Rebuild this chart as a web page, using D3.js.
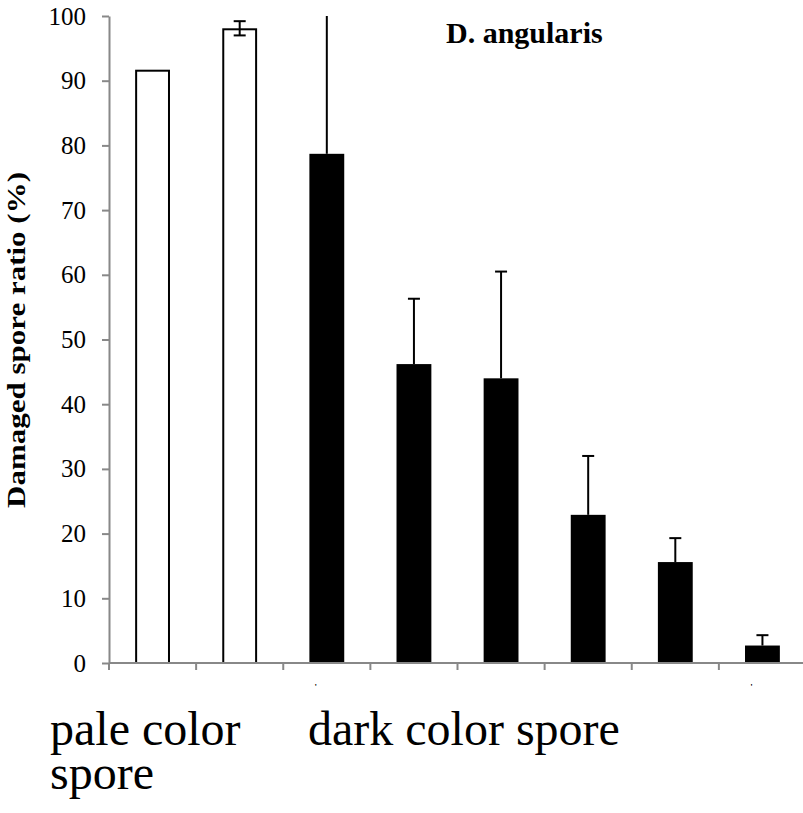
<!DOCTYPE html>
<html>
<head>
<meta charset="utf-8">
<script src="https://cdn.jsdelivr.net/npm/d3@7"></script>
<style>
  html, body { margin: 0; padding: 0; background: #fff; }
  svg { display: block; }
</style>
</head>
<body>
<svg id="chart" width="803" height="813"></svg>
<script>
// ---- data ----
const categories = ["P1", "P2", "D1", "D2", "D3", "D4", "D5", "D6"];
const values = [91.7, 98.1, 78.7, 46.2, 44.0, 22.9, 15.6, 2.7];
const errors = [0, 1.1, 25, 10.1, 16.5, 9.1, 3.7, 1.6];
const colorGroup = ["pale", "pale", "dark", "dark", "dark", "dark", "dark", "dark"];
const yTicks = [0, 10, 20, 30, 40, 50, 60, 70, 80, 90, 100];
const chartTitle = "D. angularis";
const yLabel = "Damaged spore ratio (%)";
const groupLabels = [
  { lines: ["pale color", "spore"], x: 50 },
  { lines: ["dark color spore"], x: 308 }
];

// ---- layout ----
const svg = d3.select("#chart");
const mLeft = 109, mRight = 806, mTop = 16, mBottom = 663;
const serif = "'Liberation Serif', 'Times New Roman', serif";

const x = d3.scaleBand().domain(categories).range([mLeft, mRight])
  .paddingInner(0.6).paddingOuter(0.3);
const y = d3.scaleLinear().domain([0, 100]).range([mBottom, mTop]);

svg.append("defs").append("clipPath").attr("id", "plotclip")
  .append("rect").attr("x", mLeft).attr("y", mTop).attr("width", mRight - mLeft).attr("height", mBottom - mTop);

const plot = svg.append("g").attr("clip-path", "url(#plotclip)");

// bars
plot.selectAll("rect.bar").data(categories).enter().append("rect")
  .attr("class", "bar")
  .attr("x", (d, i) => x(d) + (colorGroup[i] === "pale" ? 1 : 0))
  .attr("width", (d, i) => colorGroup[i] === "pale" ? x.bandwidth() - 2 : x.bandwidth())
  .attr("y", (d, i) => y(values[i]) + (colorGroup[i] === "pale" ? 1 : 0))
  .attr("height", (d, i) => y(0) - y(values[i]) - (colorGroup[i] === "pale" ? 1 : 0))
  .attr("fill", (d, i) => colorGroup[i] === "pale" ? "#fff" : "#000")
  .attr("stroke", "#000")
  .attr("stroke-width", (d, i) => colorGroup[i] === "pale" ? 2 : 0);

// error bars
const errG = plot.append("g");
categories.forEach((c, i) => {
  if (!errors[i]) return;
  const cx = x(c) + x.bandwidth() / 2;
  const lo = colorGroup[i] === "pale" ? values[i] - errors[i] : values[i];
  const hi = values[i] + errors[i];
  errG.append("line").attr("x1", cx).attr("x2", cx)
    .attr("y1", y(lo)).attr("y2", y(hi))
    .attr("stroke", "#000").attr("stroke-width", 2);
  errG.append("line").attr("x1", cx - 6).attr("x2", cx + 6)
    .attr("y1", y(hi)).attr("y2", y(hi))
    .attr("stroke", "#000").attr("stroke-width", 2);
  if (colorGroup[i] === "pale") {
    errG.append("line").attr("x1", cx - 6).attr("x2", cx + 6)
      .attr("y1", y(lo)).attr("y2", y(lo))
      .attr("stroke", "#000").attr("stroke-width", 2);
  }
});

// y axis
const yAxis = svg.append("g").attr("transform", `translate(${mLeft},0)`)
  .call(d3.axisLeft(y).tickValues(yTicks).tickSize(7).tickPadding(16).tickSizeOuter(0));
yAxis.attr("font-family", serif);
yAxis.select(".domain").attr("stroke", "#888").attr("stroke-width", 2);
yAxis.selectAll(".tick line").attr("stroke", "#888").attr("stroke-width", 2);
yAxis.selectAll(".tick text").attr("font-family", serif).attr("font-size", 25).attr("fill", "#000");

// x axis
const xTickPos = d3.range(categories.length + 1).map(i => mLeft + i * x.step());
const xAxis = svg.append("g");
xAxis.append("line").attr("x1", mLeft).attr("x2", mRight).attr("y1", mBottom).attr("y2", mBottom)
  .attr("stroke", "#888").attr("stroke-width", 2);
xAxis.selectAll("line.tk").data(xTickPos).enter().append("line").attr("class", "tk")
  .attr("x1", d => d).attr("x2", d => d).attr("y1", mBottom).attr("y2", mBottom + 7)
  .attr("stroke", "#888").attr("stroke-width", 2);

// tiny marks under axis
[2, 7].forEach(i => {
  svg.append("text").attr("x", x(categories[i]) + x.bandwidth() / 2 - 11).attr("y", 690)
    .attr("text-anchor", "middle").attr("font-family", serif).attr("font-size", 9).attr("font-weight", "bold")
    .text("'");
});

// title
svg.append("text").attr("x", 446).attr("y", 43)
  .attr("font-family", serif).attr("font-size", 30).attr("font-weight", "bold")
  .text(chartTitle);

// y label
svg.append("text").attr("transform", "translate(25,340) rotate(-90)")
  .attr("text-anchor", "middle")
  .attr("font-family", serif).attr("font-size", 26).attr("font-weight", "bold")
  .attr("textLength", 336).attr("lengthAdjust", "spacingAndGlyphs")
  .text(yLabel);

// group labels
groupLabels.forEach(g => {
  g.lines.forEach((ln, k) => {
    svg.append("text").attr("x", g.x).attr("y", 745 + k * 44)
      .attr("font-family", serif).attr("font-size", 48)
      .text(ln);
  });
});
</script>
</body>
</html>
